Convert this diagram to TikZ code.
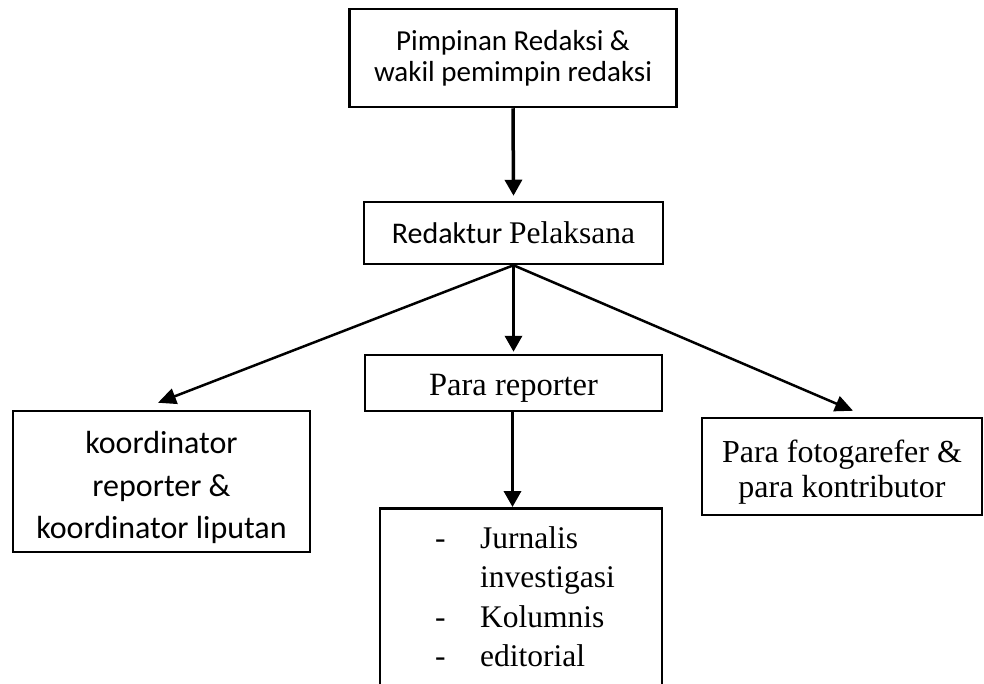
\documentclass[tikz,border=0pt]{standalone}
\usepackage{fontspec}
\setmainfont{Liberation Serif}
\newfontfamily\calfont{Carlito}
\usetikzlibrary{arrows.meta}
\begin{document}
\begin{tikzpicture}[x=1pt,y=-1pt,
  box/.style={draw, line width=2.5pt, inner sep=0pt, align=center},
  vert arrow/.style={line width=3.5pt, -{Triangle[length=16pt,width=17pt]}},
  diag arrow/.style={line width=2.5pt, -{Triangle[length=18pt,width=16pt]}}]
\clip (0,0) rectangle (984,683);
\fill[white] (0,0) rectangle (984,683);
\node[box, minimum width=327pt, minimum height=98pt,
      font=\calfont\fontsize{29}{31}\selectfont] (top) at (513,58)
      {Pimpinan Redaksi \&\\wakil pemimpin redaksi};
\node[box, minimum width=299pt, minimum height=62pt] (red) at (513.5,233)
      {{\calfont\fontsize{30}{34}\selectfont Redaktur }{\fontsize{31.5}{34}\selectfont Pelaksana}};
\node[box, minimum width=297pt, minimum height=56pt,
      font=\fontsize{32.5}{36}\selectfont, text height=24pt, text depth=0pt] (rep) at (513.5,383)
      {Para reporter};
\node[box, minimum width=297pt, minimum height=141pt,
      font=\calfont\fontsize{32}{42.5}\selectfont] (left) at (161.5,481.5)
      {\raisebox{0pt}[\dimexpr\height+12pt\relax][\depth]{\begin{tabular}{@{}c@{}}koordinator\\reporter \&\\koordinator liputan\end{tabular}}};
\node[box, minimum width=280pt, minimum height=97pt,
      font=\fontsize{32}{35}\selectfont] (right) at (842,466.5)
      {\raisebox{0pt}[\dimexpr\height+12pt\relax][\depth]{\begin{tabular}{@{}c@{}}Para fotogarefer \&\\para kontributor\end{tabular}}};
\node[box, minimum width=282pt, minimum height=200pt, anchor=north] (bot) at (521,507) {};
\node[anchor=base west, inner sep=0pt, font=\fontsize{31.5}{39.5}\selectfont] (list) at (435,548)
  {\begin{tabular}[t]{@{}p{45pt}@{}l@{}}
   -&Jurnalis\\
    &investigasi\\
   -&Kolumnis\\
   -&editorial
   \end{tabular}};
\draw[vert arrow] (top.south) -- ([yshift=5pt]red.north);
\draw[vert arrow] (red.south) -- ([yshift=2pt]rep.north);
\draw[vert arrow] ([xshift=-1pt]rep.south) -- ([xshift=-1pt]rep.south |- bot.north);
\draw[diag arrow] (red.south) -- ([xshift=-3.5pt,yshift=7pt]left.north);
\draw[diag arrow] (red.south) -- ([xshift=11pt,yshift=6pt]right.north);
\end{tikzpicture}
\end{document}
